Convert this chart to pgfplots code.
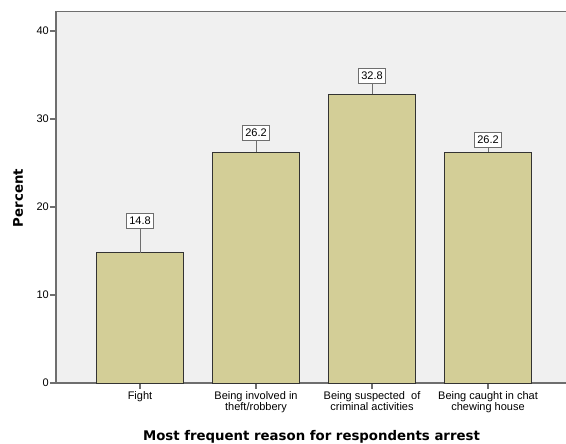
\documentclass[border=0pt]{standalone}
\usepackage{pgfplots}
\pgfplotsset{compat=1.18}
\usepackage{fontspec}
\setmainfont{Liberation Sans}
\newfontfamily\titlefont{DejaVu Sans}
\definecolor{bg}{HTML}{F0F0F0}
\definecolor{barfill}{HTML}{D3CE97}
\definecolor{axgray}{HTML}{6E6E6E}
\begin{document}
\begin{tikzpicture}[x=1pt,y=1pt]
\begin{axis}[
  at={(0,0)}, anchor=south west,
  scale only axis, width=510pt, height=371.5pt,
  xmin=-0.724, xmax=3.672, ymin=0, ymax=42.22,
  axis x line*=bottom, axis y line*=left,
  axis line style={axgray, line width=1.3pt},
  axis background/.style={fill=bg},
  ytick={0,10,20,30,40},
  xtick={0,1,2,3},
  xticklabels={Fight, {Being involved in\\theft/robbery}, {Being suspected\ \ of\\criminal activities}, {Being caught in chat\\chewing house}},
  xticklabel style={align=center, font=\fontsize{11}{11.5}\selectfont, inner sep=2pt},
  yticklabel style={font=\fontsize{11}{12}\selectfont, inner sep=1pt},
  /pgf/number format/assume math mode=true,
  tick style={axgray, line width=1.2pt},
  tick align=outside,
  major tick length=6pt,
  ybar, bar width=0.75,
  clip=false,
]
\addplot[fill=barfill, draw=black!80, line width=0.8pt] coordinates {(0,14.8) (1,26.2) (2,32.8) (3,26.2)};
\draw[axgray, line width=1.3pt] (rel axis cs:0,1) -- (rel axis cs:1,1);
\tikzset{vlab/.style={draw=axgray, line width=0.9pt, fill=white, anchor=south, inner xsep=2.5pt, inner ysep=3.8pt, font=\fontsize{11}{12}\selectfont}}
\draw[axgray, line width=0.9pt] (axis cs:0,14.8) -- (axis cs:0,17.5);
\node[vlab] at (axis cs:0,17.5) {14.8};
\draw[axgray, line width=0.9pt] (axis cs:1,26.2) -- (axis cs:1,27.5);
\node[vlab] at (axis cs:1,27.5) {26.2};
\draw[axgray, line width=0.9pt] (axis cs:2,32.8) -- (axis cs:2,34.0);
\node[vlab] at (axis cs:2,34.0) {32.8};
\draw[axgray, line width=0.9pt] (axis cs:3,26.2) -- (axis cs:3,26.7);
\node[vlab] at (axis cs:3,26.7) {26.2};
\end{axis}
\node[font=\titlefont\bfseries\fontsize{13.3}{14}\selectfont, anchor=base, inner sep=0] at (255.5,-58) {Most frequent reason for respondents arrest};
\node[font=\titlefont\bfseries\fontsize{13.3}{14}\selectfont, anchor=base, rotate=90, inner sep=0] at (-33,185) {Percent};
\pgfresetboundingbox
\path (-56,-61) rectangle (510,383);
\end{tikzpicture}
\end{document}
